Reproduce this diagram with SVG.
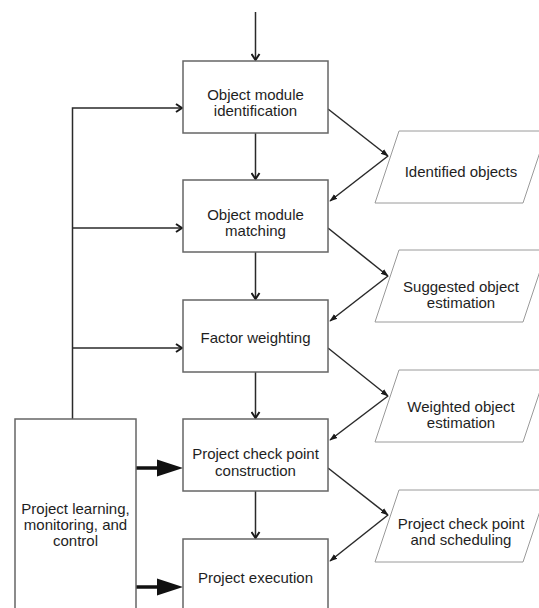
<svg xmlns="http://www.w3.org/2000/svg" width="539" height="608" viewBox="0 0 539 608">
<style>
.box{fill:#fff;stroke:#666;stroke-width:1.5}
.para{fill:#fff;stroke:#9a9a9a;stroke-width:1}
.t{font-family:"Liberation Sans",Arial,sans-serif;font-size:15px;fill:#1e1e1e;text-anchor:middle}
.ln{fill:none;stroke:#2a2a2a;stroke-width:1.5}
.thick{fill:none;stroke:#111;stroke-width:3.5}
</style>
<defs>
<marker id="chev" viewBox="0 0 10 10" refX="9" refY="5" markerWidth="10" markerHeight="10" markerUnits="userSpaceOnUse" orient="auto">
<path d="M3,1 L9,5 L3,9" fill="none" stroke="#1a1a1a" stroke-width="2"/>
</marker>
<marker id="tip" viewBox="0 0 10 10" refX="9" refY="5" markerWidth="8" markerHeight="8" markerUnits="userSpaceOnUse" orient="auto">
<path d="M0,1.5 L10,5 L0,8.5 Z" fill="#1a1a1a"/>
</marker>
</defs>
<rect width="539" height="608" fill="#fff"/>
<g id="connectors">
<line class="ln" x1="255.5" y1="12" x2="255.5" y2="60" marker-end="url(#chev)"/>
<line class="ln" x1="255.5" y1="133" x2="255.5" y2="179" marker-end="url(#chev)"/>
<line class="ln" x1="255.5" y1="252" x2="255.5" y2="299" marker-end="url(#chev)"/>
<line class="ln" x1="255.5" y1="372" x2="255.5" y2="418" marker-end="url(#chev)"/>
<line class="ln" x1="255.5" y1="491" x2="255.5" y2="538" marker-end="url(#chev)"/>
<polyline class="ln" points="72.5,419 72.5,108 182,108" marker-end="url(#chev)"/>
<line class="ln" x1="72.5" y1="228" x2="182" y2="228" marker-end="url(#chev)"/>
<line class="ln" x1="72.5" y1="348" x2="182" y2="348" marker-end="url(#chev)"/>
<line class="ln" x1="328" y1="109" x2="388" y2="156" marker-end="url(#tip)"/>
<line class="ln" x1="388" y1="156" x2="330" y2="201" marker-end="url(#tip)"/>
<line class="ln" x1="328" y1="228" x2="388" y2="276" marker-end="url(#tip)"/>
<line class="ln" x1="388" y1="276" x2="330" y2="321" marker-end="url(#tip)"/>
<line class="ln" x1="328" y1="348" x2="388" y2="396" marker-end="url(#tip)"/>
<line class="ln" x1="388" y1="396" x2="330" y2="440" marker-end="url(#tip)"/>
<line class="ln" x1="328" y1="468" x2="388" y2="515" marker-end="url(#tip)"/>
<line class="ln" x1="388" y1="515" x2="330" y2="561" marker-end="url(#tip)"/>
<line class="thick" x1="136" y1="468" x2="158" y2="468"/>
<path d="M157,459.5 L183,468 L157,476.5 Z" fill="#111"/>
<line class="thick" x1="136" y1="587" x2="158" y2="587"/>
<path d="M157,578.5 L183,587 L157,595.5 Z" fill="#111"/>
</g>
<g id="n1"><rect class="box" x="183" y="61" width="145" height="72"/><text class="t" x="255.5" y="100">Object module</text><text class="t" x="255.5" y="115.5">identification</text></g>
<g id="n2"><rect class="box" x="183" y="180" width="145" height="72"/><text class="t" x="255.5" y="220">Object module</text><text class="t" x="255.5" y="236">matching</text></g>
<g id="n3"><rect class="box" x="183" y="300" width="145" height="72"/><text class="t" x="255.5" y="343">Factor weighting</text></g>
<g id="n4"><rect class="box" x="183" y="419" width="145" height="72"/><text class="t" x="255.5" y="459">Project check point</text><text class="t" x="255.5" y="475.5">construction</text></g>
<g id="n5"><rect class="box" x="183" y="539" width="145" height="80"/><text class="t" x="255.5" y="583">Project execution</text></g>
<g id="n6"><rect class="box" x="15" y="419" width="121" height="200"/><text class="t" x="75.5" y="514">Project learning,</text><text class="t" x="75.5" y="530">monitoring, and</text><text class="t" x="75.5" y="546">control</text></g>
<g id="p1"><polygon class="para" points="399,131 547,131 523,203 375,203"/><text class="t" x="461" y="177">Identified objects</text></g>
<g id="p2"><polygon class="para" points="399,250 547,250 523,322 375,322"/><text class="t" x="461" y="292">Suggested object</text><text class="t" x="461" y="308">estimation</text></g>
<g id="p3"><polygon class="para" points="399,370 547,370 523,442 375,442"/><text class="t" x="461" y="412">Weighted object</text><text class="t" x="461" y="428">estimation</text></g>
<g id="p4"><polygon class="para" points="399,490 547,490 523,562 375,562"/><text class="t" x="461" y="529">Project check point</text><text class="t" x="461" y="545">and scheduling</text></g>
</svg>
